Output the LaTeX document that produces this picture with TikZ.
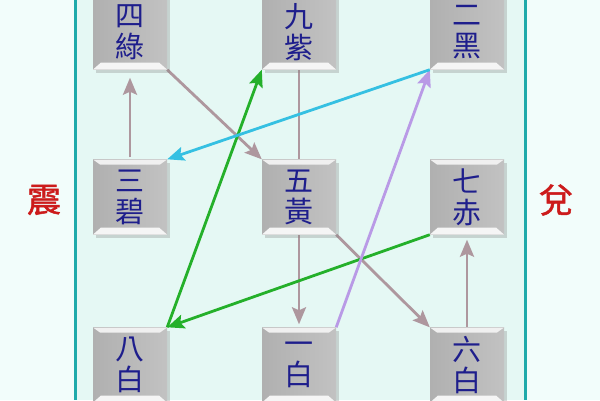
\documentclass[tikz,border=0pt]{standalone}
\usepackage{fontspec}
\newfontfamily\cjk{Noto Sans CJK TC}
\newfontfamily\cjkfett[FakeBold=1.4]{Noto Sans CJK TC}
\usetikzlibrary{arrows.meta,shadows}

\definecolor{aussen}{HTML}{F2FDFB}
\definecolor{innen}{HTML}{E5F8F4}
\definecolor{rahmen}{HTML}{1FAAAA}
\definecolor{sternblau}{HTML}{1E1E8C}
\definecolor{rotschrift}{HTML}{CC1B1B}
\definecolor{grauviolett}{HTML}{AE979E}
\definecolor{gruen}{HTML}{24B02A}
\definecolor{tuerkis}{HTML}{35C0E2}
\definecolor{lila}{HTML}{B99AE6}

\pgfdeclarelayer{hinten}
\pgfdeclarelayer{linien}
\pgfsetlayers{hinten,linien,main}

\tikzset{
    starbox/.style={minimum width=74pt, minimum height=75pt, inner sep=0pt,
        left color=gray!62, middle color=gray!18, right color=gray!48,
        drop shadow={shadow xshift=3pt, shadow yshift=-3pt, opacity=.3},
        font=\cjk\fontsize{29}{31}\selectfont, text=sternblau, align=center,
        path picture={
            \fill[gray!12] (path picture bounding box.north west)
                -- (path picture bounding box.north east)
                -- ([shift={(-7pt,-5pt)}]path picture bounding box.north east)
                -- ([shift={(7pt,-5pt)}]path picture bounding box.north west) -- cycle;
            \fill[white!92!gray] (path picture bounding box.south west)
                -- (path picture bounding box.south east)
                -- ([shift={(-8pt,7pt)}]path picture bounding box.south east)
                -- ([shift={(8pt,7pt)}]path picture bounding box.south west) -- cycle;
        }},
    gua/.style={font=\cjkfett\fontsize{34}{36}\selectfont, text=rotschrift},
    lauf/.style={line width=2.8pt, -{Stealth[length=17pt,width=14pt,inset=3pt]}},
}

\begin{document}
\begin{tikzpicture}[x=1pt,y=-1pt]
    \useasboundingbox (0,0) rectangle (600,400);

    % --- Hintergrund ---
    \begin{pgfonlayer}{hinten}
        \fill[aussen] (0,0) rectangle (600,400);
        \fill[innen] (75,0) rectangle (525,400);
        \draw[rahmen, line width=3pt] (75,0) -- (75,400);
        \draw[rahmen, line width=3pt] (525,0) -- (525,400);
    \end{pgfonlayer}

    % --- Sterne (3x3) ---
    \node[starbox] (star4) at (130,32)  {四\\綠};
    \node[starbox] (star9) at (299,32)  {九\\紫};
    \node[starbox] (star2) at (467,32)  {二\\黑};
    \node[starbox] (star3) at (130,197) {三\\碧};
    \node[starbox] (star5) at (299,197) {五\\黃};
    \node[starbox] (star7) at (467,197) {七\\赤};
    \node[starbox] (star8) at (130,365) {八\\白};
    \node[starbox] (star1) at (299,365) {一\\白};
    \node[starbox] (star6) at (467,365) {六\\白};

    % Beschriftung links/rechts
    \node[gua] (zhen) at (44,200) {震};
    \node[gua] (dui) at (556,200) {兌};

    % --- Flugbahn der Sterne ---
    \begin{pgfonlayer}{linien}
        \draw[lauf, grauviolett, shorten >=3pt] (star9) -- (star1);
        \draw[lauf, grauviolett, shorten >=8pt, shorten <=2pt] (star3) -- (star4);
        \draw[lauf, grauviolett] (star4.south east) -- (star5.north west);
        \draw[lauf, grauviolett] (star5.south east) -- (star6.north west);
        \draw[lauf, grauviolett, shorten >=5pt] (star6) -- (star7);
        \draw[lauf, gruen] (star7.south west) -- (star8.north east);
        \draw[lauf, gruen] (star8.north east) -- (star9.south west);
        \draw[lauf, lila] (star1.north east) -- (star2.south west);
        \draw[lauf, tuerkis] (star2.south west) -- (star3.north east);
    \end{pgfonlayer}
\end{tikzpicture}
\end{document}
